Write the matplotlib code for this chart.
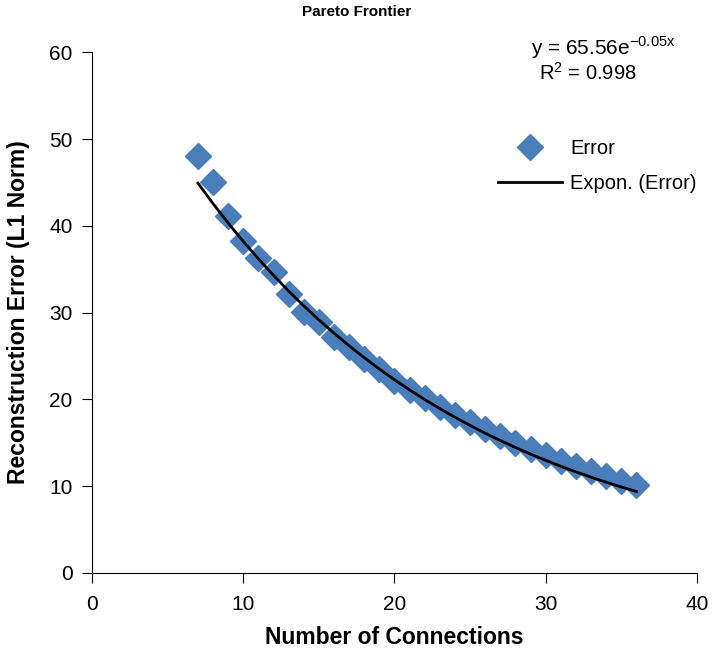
import numpy as np
import matplotlib.pyplot as plt

plt.rcParams['font.family'] = ['Liberation Sans', 'DejaVu Sans']
plt.rcParams['mathtext.fontset'] = 'custom'
plt.rcParams['mathtext.rm'] = 'Liberation Sans'

# Data
connections = [7, 8, 9, 10, 11, 12, 13, 14, 15, 16, 17, 18, 19, 20, 21,
               22, 23, 24, 25, 26, 27, 28, 29, 30, 31, 32, 33, 34, 35, 36]
error = [48.0, 45.0, 41.1, 38.2, 36.3, 34.7, 32.1, 30.1, 28.9, 27.2,
         26.0, 24.6, 23.5, 22.1, 21.1, 20.2, 19.1, 18.2, 17.4, 16.6,
         15.8, 15.0, 14.3, 13.6, 12.9, 12.3, 11.7, 11.2, 10.6, 10.1]

# Exponential trendline as shown on the chart
fit_a = 65.56
fit_b = -0.054
x = np.array(connections)
trend = fit_a * np.exp(fit_b * x)

fig = plt.figure(figsize=(7.14, 6.54), dpi=100)
ax = fig.add_axes([0.129, 0.124, 0.847, 0.796])

ax.plot(connections, error, linestyle='none', marker='D', markersize=13,
        color='#4A7EBB', label='Error')
ax.plot(x, trend, color='black', linewidth=2, label='Expon. (Error)')

ax.set_xlim(0, 40)
ax.set_ylim(0, 60)
ax.set_xticks(range(0, 41, 10))
ax.set_yticks(range(0, 61, 10))
ax.tick_params(labelsize=15, direction='out', length=7, pad=7)
ax.tick_params(axis='x', pad=9)
ax.spines['top'].set_visible(False)
ax.spines['right'].set_visible(False)

ax.set_xlabel('Number of Connections', fontsize=16.5, fontweight='bold', labelpad=8.5)
ax.set_ylabel('Reconstruction Error (L1 Norm)', fontsize=16.5, fontweight='bold', labelpad=14)
fig.text(0.5, 0.981, 'Pareto Frontier', ha='center', va='center',
         fontsize=11, fontweight='bold')

ax.text(0.845, 1.008, r'y = 65.56e$^{\mathrm{-0.05x}}$', transform=ax.transAxes,
        ha='center', va='center', fontsize=15)
ax.text(0.82, 0.96, r'R$^{\mathrm{2}}$ = 0.998', transform=ax.transAxes,
        ha='center', va='center', fontsize=14.5)

ax.legend(loc='upper right', bbox_to_anchor=(1.03, 0.868), frameon=False,
          fontsize=14.5, handlelength=3.2, handletextpad=0.4, labelspacing=0.8)

fig.savefig('out.png')
